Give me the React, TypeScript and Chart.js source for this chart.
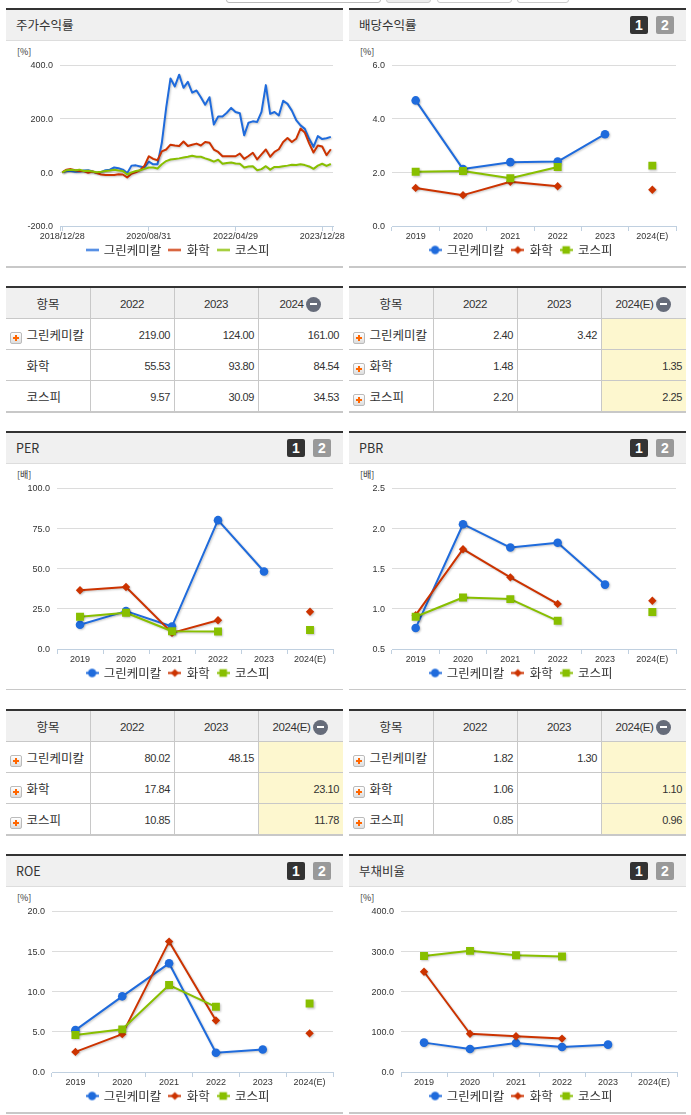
import React, { useEffect, useRef } from "react";
import { Chart, registerables } from "chart.js";

Chart.register(...registerables);

const NAME_GREEN = "그린케미칼";
const NAME_CHEM = "화학";
const NAME_KOSPI = "코스피";

const COLOR_GREEN = "#1f6bdc";
const COLOR_CHEM = "#cc3300";
const COLOR_KOSPI = "#88bf00";

const years = ["2019", "2020", "2021", "2022", "2023", "2024(E)"];

const priceDates = [
  "2018/12/28", "2019/01/31", "2019/02/28", "2019/03/29", "2019/04/30", "2019/05/31", "2019/06/28", "2019/07/31", "2019/08/30", "2019/09/30", "2019/10/31", "2019/11/29", "2019/12/30",
  "2020/01/31", "2020/02/28", "2020/03/31", "2020/04/29", "2020/05/29", "2020/06/30", "2020/07/31", "2020/08/31", "2020/09/29", "2020/10/30", "2020/11/30", "2020/12/30",
  "2021/01/29", "2021/02/26", "2021/03/31", "2021/04/30", "2021/05/31", "2021/06/30", "2021/07/30", "2021/08/31", "2021/09/30", "2021/10/29", "2021/11/30", "2021/12/30",
  "2022/01/28", "2022/02/28", "2022/03/31", "2022/04/29", "2022/05/31", "2022/06/30", "2022/07/29", "2022/08/31", "2022/09/30", "2022/10/31", "2022/11/30", "2022/12/29",
  "2023/01/31", "2023/02/28", "2023/03/31", "2023/04/28", "2023/05/31", "2023/06/30", "2023/07/31", "2023/08/31", "2023/09/27", "2023/10/31", "2023/11/30", "2023/12/28",
  "2024/01/31", "2024/02/29",
];
const priceTickDates = ["2018/12/28", "2020/08/31", "2022/04/29", "2023/12/28"];

const priceGreen = [0, 5, 5, 2, 3, 7, 8, 3, -2, 1, 8, 10, 18, 15, 10, -3, 25, 26, 22, 18, 40, 30, 30, 110, 240, 350, 320, 364, 315, 337, 297, 305, 280, 252, 280, 178, 208, 208, 222, 240, 225, 220, 138, 185, 190, 188, 225, 325, 218, 225, 212, 267, 255, 230, 195, 175, 162, 125, 95, 135, 124, 127, 132];
const priceChem = [0, 10, 12, 8, 5, 5, -2, 3, -3, -8, -10, -10, -10, -7, -8, -19, -5, 0, 8, 25, 60, 50, 45, 78, 85, 103, 100, 98, 115, 98, 103, 107, 100, 113, 110, 85, 76, 60, 60, 60, 60, 70, 50, 61, 73, 48, 67, 85, 58, 76, 86, 113, 128, 113, 125, 163, 148, 108, 74, 100, 96, 64, 86];
const priceKospi = [0, 8, 10, 8, 10, 5, 6, 3, 0, 2, 5, 7, 10, 7, 5, -8, 0, 5, 8, 13, 18, 18, 14, 30, 42, 48, 50, 52, 55, 58, 62, 58, 58, 52, 47, 40, 47, 32, 35, 37, 33, 32, 18, 22, 23, 8, 12, 23, 10, 20, 20, 23, 25, 28, 27, 30, 27, 22, 13, 25, 32, 24, 31];

const divGreen = [4.68, 2.12, 2.38, 2.4, 3.42, null];
const divChem = [1.42, 1.15, 1.65, 1.48, null, 1.35];
const divKospi = [2.02, 2.05, 1.78, 2.2, null, 2.25];

const perGreen = [15.1, 23.5, 14, 80.02, 48.15, null];
const perChem = [36.5, 38.5, 10, 17.84, null, 23.1];
const perKospi = [20, 22.5, 11, 10.85, null, 11.78];

const pbrGreen = [0.76, 2.05, 1.76, 1.82, 1.3, null];
const pbrChem = [0.92, 1.74, 1.39, 1.06, null, 1.1];
const pbrKospi = [0.9, 1.14, 1.12, 0.85, null, 0.96];

const roeGreen = [5.2, 9.4, 13.5, 2.4, 2.8, null];
const roeChem = [2.5, 4.7, 16.2, 6.4, null, 4.8];
const roeKospi = [4.6, 5.3, 10.8, 8.1, null, 8.5];

const debtGreen = [73, 57, 72, 62, 68, null];
const debtChem = [249, 95, 89, 83, null, null];
const debtKospi = [288, 301, 290, 287, null, null];

const tableRowNames = [NAME_GREEN, NAME_CHEM, NAME_KOSPI];
const priceTable = [["219.00", "124.00", "161.00"], ["55.53", "93.80", "84.54"], ["9.57", "30.09", "34.53"]];
const divTable = [["2.40", "3.42", ""], ["1.48", "", "1.35"], ["2.20", "", "2.25"]];
const perTable = [["80.02", "48.15", ""], ["17.84", "", "23.10"], ["10.85", "", "11.78"]];
const pbrTable = [["1.82", "1.30", ""], ["1.06", "", "1.10"], ["0.85", "", "0.96"]];

const KR = '"Noto Sans CJK KR", sans-serif';
const LAT = '"Liberation Sans", Arial, sans-serif';
const TEXT = "#333";

function legendIcon(color: string, kind: string) {
  const c = document.createElement("canvas");
  c.width = 13;
  c.height = 11;
  const g = c.getContext("2d")!;
  g.strokeStyle = color;
  g.fillStyle = color;
  g.lineWidth = 2;
  g.beginPath();
  g.moveTo(0, 5.5);
  g.lineTo(13, 5.5);
  g.stroke();
  if (kind === "circle") {
    g.beginPath();
    g.arc(6.5, 5.5, 4.2, 0, Math.PI * 2);
    g.fill();
  } else if (kind === "rectRot") {
    g.beginPath();
    g.moveTo(6.5, 1.5);
    g.lineTo(10.5, 5.5);
    g.lineTo(6.5, 9.5);
    g.lineTo(2.5, 5.5);
    g.closePath();
    g.fill();
  } else if (kind === "rect") {
    g.fillRect(2.7, 1.7, 7.6, 7.6);
  }
  return c;
}

const shadowPlugin = {
  id: "lineShadow",
  beforeDatasetDraw(chart: any) {
    const ctx = chart.ctx;
    ctx.save();
    ctx.shadowColor = "rgba(0,0,0,0.22)";
    ctx.shadowOffsetX = 1;
    ctx.shadowOffsetY = 1;
    ctx.shadowBlur = 2;
  },
  afterDatasetDraw(chart: any) {
    chart.ctx.restore();
  },
};

const legendPlacePlugin = {
  id: "legendPlace",
  afterLayout(chart: any) {
    const lg = chart.legend;
    const h = lg.bottom - lg.top;
    lg.top = 194.75;
    lg.bottom = lg.top + h;
    const shift = 172 - (lg.left + lg.right) / 2;
    lg.left += shift;
    lg.right += shift;
  },
};

const axisEndsPlugin = {
  id: "axisEnds",
  afterDraw(chart: any) {
    const s = chart.scales.x;
    const ctx = chart.ctx;
    ctx.save();
    ctx.strokeStyle = "#c0d0e0";
    ctx.lineWidth = 1;
    ctx.beginPath();
    [Math.round(s.left) + 0.5, Math.round(s.right) - 0.5].forEach((x) => {
      ctx.moveTo(x, s.top);
      ctx.lineTo(x, s.top + 5);
    });
    ctx.stroke();
    ctx.restore();
  },
};

type ChartProps = {
  x: number;
  y: number;
  plotLeft: number;
  plotRight: number;
  labels: string[];
  series: any[][];
  min: number;
  max: number;
  step: number;
  daily?: boolean;
};

const CANVAS_W = 343;
const CANVAS_H = 232;

function LineChart({ x, y, plotLeft, plotRight, labels, series, min, max, step, daily }: ChartProps) {
  const ref = useRef<HTMLCanvasElement>(null);
  useEffect(() => {
    const names = [NAME_GREEN, NAME_CHEM, NAME_KOSPI];
    const colors = [COLOR_GREEN, COLOR_CHEM, COLOR_KOSPI];
    const styles = ["circle", "rectRot", "rect"];
    const radii = [4.3, 4.2, 5.6];
    const chart = new Chart(ref.current!, {
      type: "line",
      data: {
        labels,
        datasets: series.map((values, i) => ({
          label: names[i],
          data: values,
          borderColor: colors[i],
          backgroundColor: colors[i],
          borderWidth: 2,
          tension: 0,
          spanGaps: false,
          order: 3 - i,
          pointStyle: styles[i],
          pointRadius: daily ? 0 : radii[i],
          pointBorderWidth: 0,
          pointHoverRadius: daily ? 0 : radii[i],
          borderJoinStyle: "round",
        })),
      },
      plugins: daily ? [shadowPlugin, legendPlacePlugin, axisEndsPlugin] : [shadowPlugin, legendPlacePlugin],
      options: {
        responsive: false,
        animation: false,
        devicePixelRatio: 1,
        layout: {
          autoPadding: false,
          padding: { top: 24, left: 0, right: x + CANVAS_W - plotRight, bottom: 0.5 },
        },
        plugins: {
          tooltip: { enabled: false },
          legend: {
            position: "bottom",
            labels: {
              usePointStyle: true,
              pointStyleWidth: 11,
              padding: 8,
              color: TEXT,
              font: { family: KR, size: 12.5 },
              generateLabels: () =>
                names.map((n, i) => ({
                  text: n,
                  fillStyle: colors[i],
                  strokeStyle: colors[i],
                  lineWidth: 0,
                  fontColor: TEXT,
                  pointStyle: legendIcon(colors[i], daily ? "line" : styles[i]),
                  datasetIndex: i,
                  hidden: false,
                })),
            },
          },
        },
        scales: {
          x: {
            type: "category",
            offset: true,
            afterBuildTicks: daily
              ? (s: any) => {
                  s.ticks = s.ticks.filter((t: any) => priceTickDates.includes(labels[t.value]));
                }
              : undefined,
            afterFit: (s: any) => {
              s.height = 16;
            },
            grid: {
              drawOnChartArea: false,
              drawTicks: true,
              offset: !daily,
              tickLength: 5,
              tickColor: "#c0d0e0",
              tickWidth: 1,
            },
            border: { display: true, color: "#c0d0e0", width: 1 },
            ticks: {
              autoSkip: false,
              maxRotation: 0,
              minRotation: 0,
              padding: 0,
              color: TEXT,
              font: { family: LAT, size: 9 },
            },
          },
          y: {
            type: "linear",
            min,
            max,
            afterFit: (s: any) => {
              s.width = plotLeft - x;
            },
            grid: { color: "#dcdcdc", lineWidth: 1, drawTicks: false },
            border: { display: false },
            ticks: {
              stepSize: step,
              padding: 7,
              labelOffset: 1,
              color: TEXT,
              font: { family: LAT, size: 9 },
              callback: (v: any) => Number(v).toFixed(1),
            },
          },
        },
      },
    } as any);
    return () => chart.destroy();
  }, []);
  return (
    <canvas
      ref={ref}
      width={CANVAS_W}
      height={CANVAS_H}
      style={{ position: "absolute", left: x, top: y, width: CANVAS_W, height: CANVAS_H, display: "block" }}
    />
  );
}

function Box({ l, t, w, h, c, extra }: { l: number; t: number; w: number; h: number; c: string; extra?: any }) {
  return <div style={{ position: "absolute", left: l, top: t, width: w, height: h, background: c, ...extra }} />;
}

function PageButton({ l, t, text, bg }: { l: number; t: number; text: string; bg: string }) {
  return (
    <div
      style={{
        position: "absolute",
        left: l,
        top: t,
        width: 18,
        height: 18,
        background: bg,
        borderRadius: 2,
        color: "#fff",
        font: `bold 14px/18px ${LAT}`,
        textAlign: "center",
      }}
    >
      {text}
    </div>
  );
}

const PANEL_W = 337;

function Panel({
  x,
  y,
  title,
  unit,
  buttons,
  bottomH,
}: {
  x: number;
  y: number;
  title: string;
  unit: string;
  buttons: boolean;
  bottomH: number;
}) {
  return (
    <>
      <Box l={x} t={y} w={PANEL_W} h={2} c="#333" />
      <Box l={x} t={y + 2} w={PANEL_W} h={30} c="#f0f0f0" />
      <Box l={x} t={y + 32} w={PANEL_W} h={1} c="#ddd" />
      <div
        style={{
          position: "absolute",
          left: x + 10,
          top: y + 7,
          font: `12.5px/19px ${KR}`,
          color: TEXT,
          whiteSpace: "nowrap",
        }}
      >
        {title}
      </div>
      {buttons && (
        <>
          <PageButton l={x + 281} t={y + 8} text="1" bg="#333" />
          <PageButton l={x + 307} t={y + 8} text="2" bg="#999" />
        </>
      )}
      <div
        style={{
          position: "absolute",
          left: x + 11,
          top: y + 38,
          font: `9px/12px ${KR}`,
          color: TEXT,
          whiteSpace: "nowrap",
        }}
      >
        {unit}
      </div>
      <Box l={x} t={y + 258} w={PANEL_W} h={bottomH} c="#c8c8c8" />
    </>
  );
}

function PlusIcon({ l, t }: { l: number; t: number }) {
  return (
    <div
      style={{
        position: "absolute",
        left: l,
        top: t,
        width: 10,
        height: 10,
        border: "1px solid #bbb",
        borderRadius: 2,
        background: "linear-gradient(#fff,#ddd)",
      }}
    >
      <Box l={2} t={4} w={6} h={2} c="#f60" />
      <Box l={4} t={2} w={2} h={6} c="#f60" />
    </div>
  );
}

function Table({
  x,
  y,
  head,
  rows,
  allIcons,
  highlight,
}: {
  x: number;
  y: number;
  head: string;
  rows: string[][];
  allIcons: boolean;
  highlight: boolean;
}) {
  const cols = [x, x + 84, x + 168, x + 252, x + PANEL_W];
  const rowH = 31;
  const bodyTop = y + 33;
  const heads = ["항목", "2022", "2023", head];
  return (
    <>
      <Box l={x} t={y} w={PANEL_W} h={2} c="#333" />
      <Box l={x} t={y + 2} w={PANEL_W} h={30} c="#f0f0f0" />
      {highlight && <Box l={cols[3]} t={bodyTop} w={85} h={rowH * 3 - 1} c="#fdf7cf" />}
      {[0, 1, 2].map((i) => (
        <Box key={i} l={x} t={y + 32 + rowH * i} w={PANEL_W} h={1} c="#c8c8c8" />
      ))}
      <Box l={x} t={y + 125} w={PANEL_W} h={2} c="#c8c8c8" />
      {[1, 2, 3].map((i) => (
        <Box key={i} l={cols[i]} t={y + 2} w={1} h={123} c="#c8c8c8" />
      ))}
      {heads.map((h, i) => (
        <div
          key={h}
          style={{
            position: "absolute",
            left: cols[i],
            width: cols[i + 1] - cols[i],
            top: y + 3,
            height: 30,
            display: "flex",
            alignItems: "center",
            justifyContent: "center",
            color: TEXT,
            font: i === 0 ? `12.5px/30px ${KR}` : `11.5px/30px ${LAT}`,
            letterSpacing: i === 0 ? 0 : -0.45,
          }}
        >
          <span>{h}</span>
          {i === 3 && (
            <span
              style={{
                display: "inline-block",
                position: "relative",
                width: 15,
                height: 15,
                marginLeft: 3,
                borderRadius: "50%",
                background: "#666c7a",
              }}
            >
              <Box l={4} t={6.5} w={7} h={2} c="#fff" />
            </span>
          )}
        </div>
      ))}
      {rows.map((row, r) => (
        <React.Fragment key={r}>
          {(allIcons || r === 0) && <PlusIcon l={x + 4} t={bodyTop + rowH * r + 13} />}
          <div
            style={{
              position: "absolute",
              left: x + 20.5,
              top: bodyTop + rowH * r + 1,
              font: `12.5px/30px ${KR}`,
              color: TEXT,
              whiteSpace: "nowrap",
            }}
          >
            {tableRowNames[r]}
          </div>
          {row.map((v, c) => (
            <div
              key={c}
              style={{
                position: "absolute",
                left: cols[c + 1],
                width: cols[c + 2] - cols[c + 1] - 4,
                top: bodyTop + rowH * r + 1,
                textAlign: "right",
                font: `11px/30px ${LAT}`,
                letterSpacing: -0.4,
                color: TEXT,
              }}
            >
              {v}
            </div>
          ))}
        </React.Fragment>
      ))}
    </>
  );
}

export default function App() {
  const L = 6;
  const R = 349;
  return (
    <div style={{ position: "absolute", left: 0, top: 0, width: 691, height: 1115, overflow: "hidden", background: "#fff" }}>
      <Box l={226} t={-20} w={153} h={21} c="#fff" extra={{ border: "1px solid #bbb", borderRadius: 3 }} />
      <Box l={386} t={-20} w={43} h={21} c="#eee" extra={{ border: "1px solid #ccc", borderRadius: 3 }} />
      <Box l={437} t={-20} w={73} h={21} c="#fff" extra={{ border: "1px solid #ccc", borderRadius: 3 }} />
      <Box l={517} t={-20} w={50} h={21} c="#fff" extra={{ border: "1px solid #ccc", borderRadius: 3 }} />

      <Panel x={L} y={8} title="주가수익률" unit="[%]" buttons={false} bottomH={2} />
      <Panel x={R} y={8} title="배당수익률" unit="[%]" buttons={true} bottomH={2} />
      <LineChart x={L} y={41} plotLeft={60} plotRight={333} labels={priceDates} series={[priceGreen, priceChem, priceKospi]} min={-200} max={400} step={200} daily />
      <LineChart x={R} y={41} plotLeft={392} plotRight={676} labels={years} series={[divGreen, divChem, divKospi]} min={0} max={6} step={2} />
      <Table x={L} y={286} head="2024" rows={priceTable} allIcons={false} highlight={false} />
      <Table x={R} y={286} head="2024(E)" rows={divTable} allIcons={true} highlight={true} />

      <Panel x={L} y={431} title="PER" unit="[배]" buttons={true} bottomH={1} />
      <Panel x={R} y={431} title="PBR" unit="[배]" buttons={true} bottomH={1} />
      <LineChart x={L} y={464} plotLeft={57} plotRight={333} labels={years} series={[perGreen, perChem, perKospi]} min={0} max={100} step={25} />
      <LineChart x={R} y={464} plotLeft={392} plotRight={676} labels={years} series={[pbrGreen, pbrChem, pbrKospi]} min={0.5} max={2.5} step={0.5} />
      <Table x={L} y={709} head="2024(E)" rows={perTable} allIcons={true} highlight={true} />
      <Table x={R} y={709} head="2024(E)" rows={pbrTable} allIcons={true} highlight={true} />

      <Panel x={L} y={854} title="ROE" unit="[%]" buttons={true} bottomH={2} />
      <Panel x={R} y={854} title="부채비율" unit="[%]" buttons={true} bottomH={2} />
      <LineChart x={L} y={887} plotLeft={52} plotRight={333} labels={years} series={[roeGreen, roeChem, roeKospi]} min={0} max={20} step={5} />
      <LineChart x={R} y={887} plotLeft={401} plotRight={677} labels={years} series={[debtGreen, debtChem, debtKospi]} min={0} max={400} step={100} />
    </div>
  );
}
